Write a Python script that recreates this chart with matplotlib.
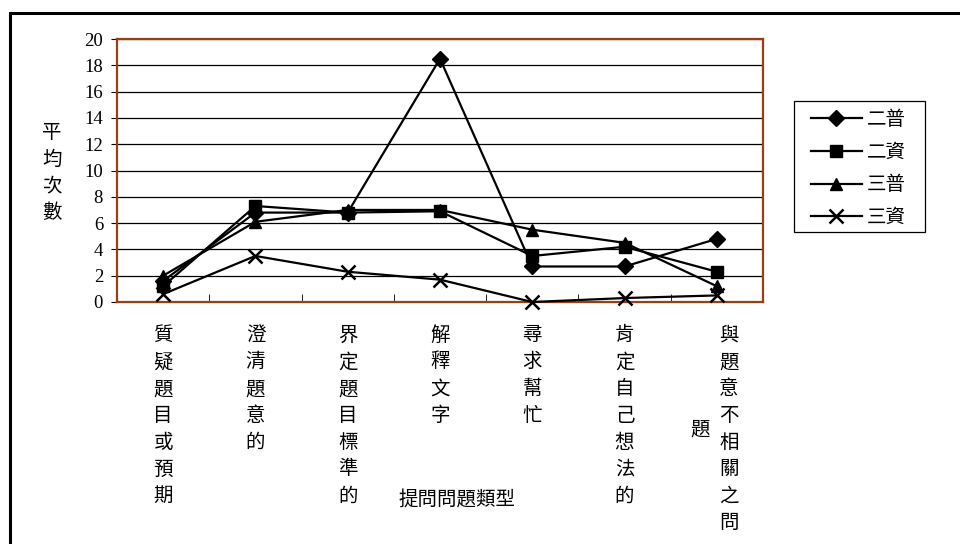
import matplotlib
matplotlib.use("Agg")
import matplotlib.pyplot as plt
import matplotlib.transforms as mtransforms
from matplotlib.patches import Rectangle
import numpy as np

# --- data ---
categories = ["質疑題目或預期", "澄清題意的", "界定題目標準的", "解釋文字",
              "尋求幫忙", "肯定自己想法的", "與題意不相關之問題"]
s_2pu = [1.6, 6.8, 6.8, 18.5, 2.7, 2.7, 4.8]   # 二普
s_2zi = [1.2, 7.3, 6.8, 6.9, 3.5, 4.2, 2.3]    # 二資
s_3pu = [2.0, 6.1, 7.0, 7.0, 5.5, 4.5, 1.2]    # 三普
s_3zi = [0.6, 3.5, 2.3, 1.7, 0.0, 0.3, 0.5]    # 三資
series_names = ["二普", "二資", "三普", "三資"]
y_ticks = [0, 2, 4, 6, 8, 10, 12, 14, 16, 18, 20]

CJK = ["Noto Sans CJK TC", "DejaVu Sans"]
SERIF = ["Liberation Serif", "DejaVu Serif"]
BROWN = "#9a3f14"
W, H = 960, 544
FS = 14

fig = plt.figure(figsize=(W / 100, H / 100), dpi=100)
ax = fig.add_axes([117 / W, 1 - 302 / H, (763 - 117) / W, (302 - 39) / H])

x = np.arange(len(categories))
styles = [("D", 8.5), ("s", 9), ("^", 9), ("x", 10)]
for vals, name, (mk, ms) in zip([s_2pu, s_2zi, s_3pu, s_3zi], series_names, styles):
    ax.plot(x, vals, color="black", lw=1.6, marker=mk, ms=ms,
            mew=1.8 if mk == "x" else 1, mfc="black", mec="black",
            label=name, clip_on=False, zorder=3)

ax.set_xlim(-0.5, len(categories) - 0.5)
ax.set_ylim(0, 20)
ax.set_yticks(y_ticks)
ax.set_yticklabels([str(t) for t in y_ticks], family=SERIF, fontsize=13.5)
ax.tick_params(axis="y", length=4, pad=6, color="black")
ax.set_xticks([])
ax.set_xticks(np.arange(len(categories) + 1) - 0.5, minor=True)
ax.tick_params(axis="x", which="minor", direction="in", length=6, color="black")
ax.grid(axis="y", color="black", lw=0.9)
ax.set_axisbelow(True)
for sp in ax.spines.values():
    sp.set_color(BROWN)
    sp.set_linewidth(1.6)

# vertical category labels, one character per line
tr = mtransforms.blended_transform_factory(ax.transData, fig.transFigure)
step, y0 = 26.8, 335
for i, lab in enumerate(categories):
    main, extra = lab[:8], lab[8:]
    dx = 12 if extra else 0
    off = mtransforms.ScaledTranslation(dx / 100, 0, fig.dpi_scale_trans)
    for k, ch in enumerate(main):
        ax.text(i, 1 - (y0 + step * k) / H, ch, transform=tr + off,
                ha="center", va="center", family=CJK, fontsize=FS)
    if extra:
        off2 = mtransforms.ScaledTranslation(-17 / 100, 0, fig.dpi_scale_trans)
        mid = y0 + step * (len(main) - 1) / 2
        for k, ch in enumerate(extra):
            ax.text(i, 1 - (mid + step * k) / H, ch, transform=tr + off2,
                    ha="center", va="center", family=CJK, fontsize=FS)

fig.text(457 / W, 1 - 500 / H, "提問問題類型", ha="center", va="center",
         family=CJK, fontsize=FS)
for k, ch in enumerate("平均次數"):
    fig.text(52 / W, 1 - (132 + 27 * k) / H, ch, ha="center", va="center",
             family=CJK, fontsize=FS)

# legend: contents placed by matplotlib, frame drawn to the reference box
leg = ax.legend(loc="upper left", bbox_to_anchor=(811 / W, 1 - 109 / H),
                bbox_transform=fig.transFigure, prop={"family": CJK, "size": FS},
                frameon=False, handlelength=2.6, handletextpad=0.25,
                labelspacing=0.6, borderpad=0, borderaxespad=0)
fig.patches.append(Rectangle((794 / W, 1 - 232 / H), (925 - 794) / W, (232 - 101) / H,
                             transform=fig.transFigure, fill=False,
                             edgecolor="black", lw=0.9))

# outer chart frame (cropped at right and bottom)
fig.patches.append(Rectangle((10 / W, -0.1), 1.2, 1 - 13 / H + 0.1,
                             transform=fig.transFigure, fill=False,
                             edgecolor="black", lw=2.2))

fig.savefig("out.png", dpi=100)
